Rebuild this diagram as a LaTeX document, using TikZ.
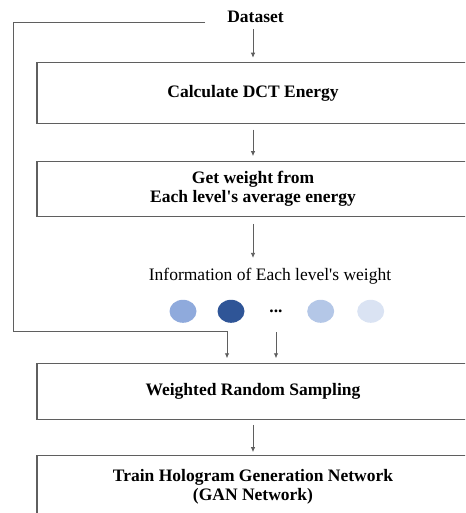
\documentclass[tikz,border=0pt]{standalone}
\usepackage{fontspec}
\setmainfont{Liberation Serif}
\usetikzlibrary{arrows.meta,positioning,shapes.geometric}

\definecolor{linegray}{HTML}{5F5F5F}
\definecolor{lvlone}{HTML}{8FAADC}
\definecolor{lvltwo}{HTML}{2F5597}
\definecolor{lvlthree}{HTML}{B4C7E7}
\definecolor{lvlfour}{HTML}{DAE3F3}

\begin{document}
\begin{tikzpicture}[x=1pt,y=-1pt]
        \tikzstyle{every node}=[font=\fontsize{17.5}{19.5}\selectfont]
        \tikzstyle{stage}=[draw=linegray,line width=1.1pt,minimum width=432pt,align=center,font=\fontsize{17.5}{19.5}\selectfont\bfseries]
        \tikzstyle{flow}=[draw=linegray,line width=0.8pt,-{Latex[length=5pt,width=4.5pt]}]
        \tikzstyle{level}=[ellipse,minimum width=27pt,minimum height=23pt,inner sep=0pt]

        \useasboundingbox (0,0) rectangle (465,513);
        \clip (0,0) rectangle (465,513);

        \node [font=\fontsize{17.5}{19.5}\selectfont\bfseries] (dataset) at (255.5,17) {Dataset};
        \node [stage,minimum height=61.4pt] (dct) at (253,93) {Calculate DCT Energy};
        \node [stage,minimum height=55.7pt] (weight) at (253,189) {Get weight from\\Each level\textquotesingle s average energy};
        \node (info) at (270,276.5) {Information of Each level\textquotesingle s weight};

        % level weights
        \foreach \name/\x/\col in {c1/183/lvlone, c2/231/lvltwo, c3/320.7/lvlthree, c4/370.7/lvlfour} {
            \node [level,fill=\col] (\name) at (\x,311.3) {};
        };
        \node [font=\fontsize{17.5}{19.5}\selectfont\bfseries,inner sep=1pt] (dots) at (276,311) {...};

        \node [stage,minimum height=56pt] (sampling) at (253,391.3) {Weighted Random Sampling};
        \node [stage,minimum height=62pt] (train) at (253,486.7) {Train Hologram Generation Network\\(GAN Network)};

        \draw [flow,shorten <=3pt,shorten >=4pt] (dataset.south -| dct.north) -- (dct.north);
        \draw [flow,shorten <=5.5pt,shorten >=4.5pt] (dct.south) -- (weight.north);
        \draw [flow,shorten <=6.5pt,shorten >=7pt] (weight.south) -- (weight.south |- info.north);
        \draw [flow,shorten <=5pt,shorten >=3pt] (sampling.south) -- (train.north);

        % bypass from the dataset
        \coordinate (tap) at (205,22.5);
        \coordinate (bend) at (13,331);
        \draw [flow,shorten >=4.5pt] (tap) -| (bend) -| ([xshift=-26pt]sampling.north);
        \draw [flow,shorten <=9pt,shorten >=4.5pt] (dots.south |- c1.south) -- (dots.south |- sampling.north);
\end{tikzpicture}
\end{document}
